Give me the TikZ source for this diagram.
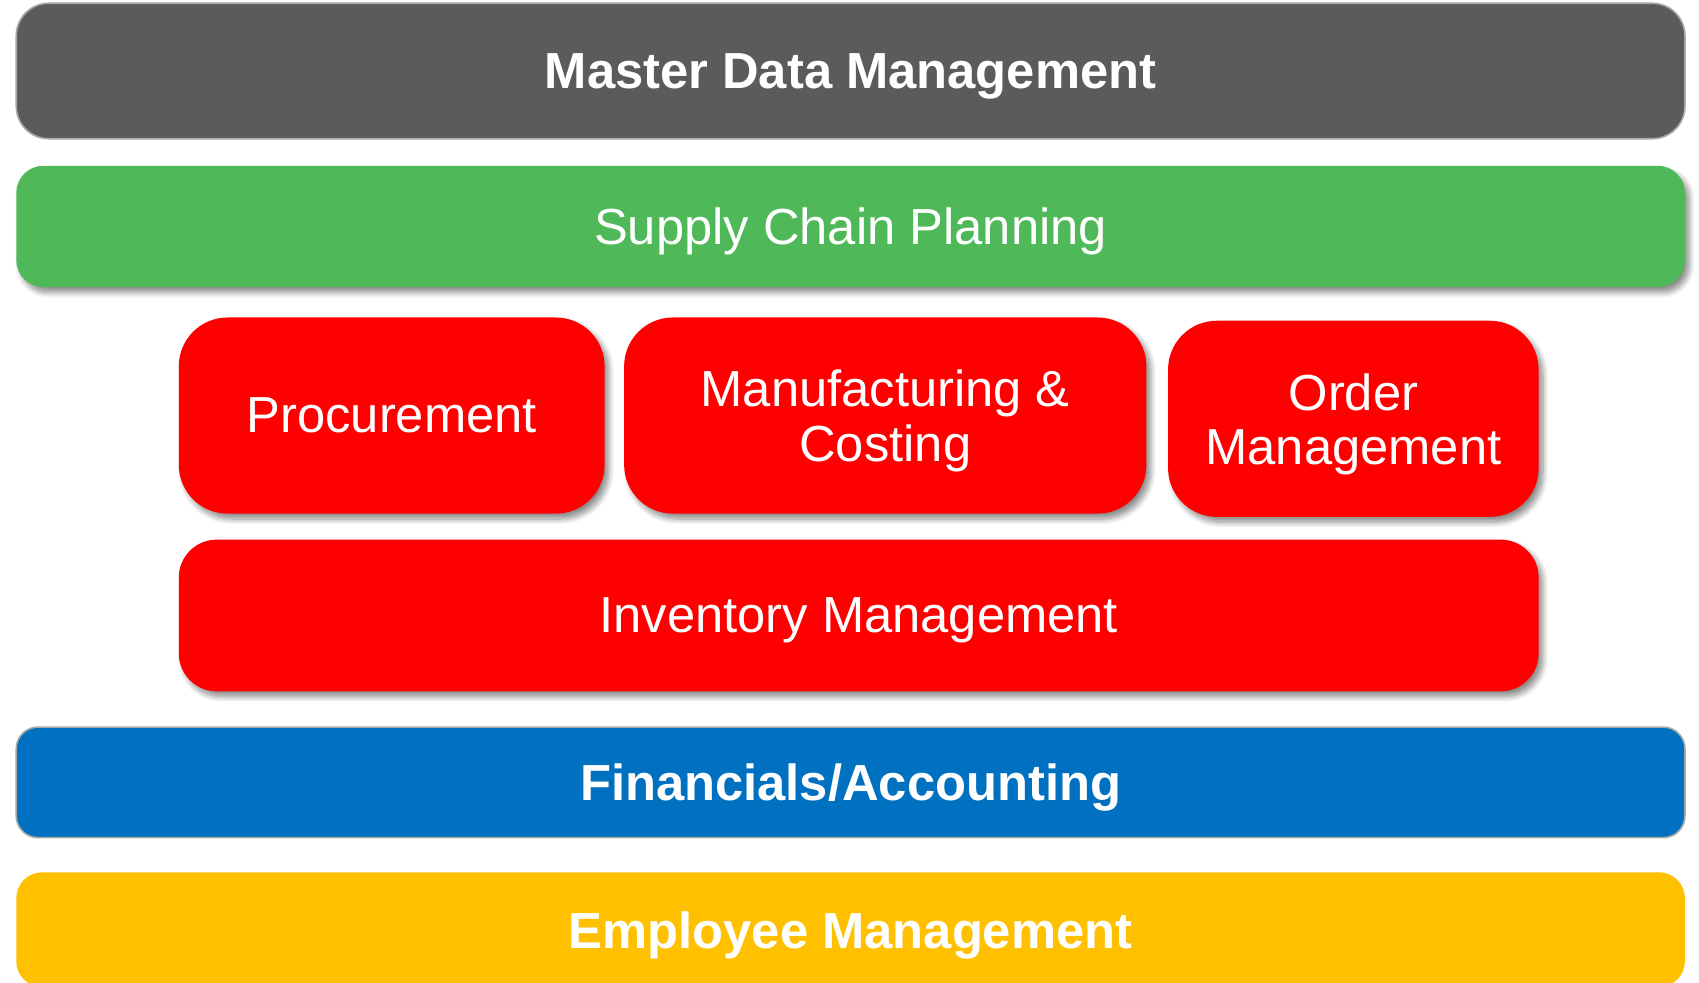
\documentclass[tikz,border=0pt]{standalone}
\usepackage{fontspec}
\setmainfont{Liberation Sans}
\usetikzlibrary{shadows.blur}
\definecolor{mdmgray}{HTML}{5B5B5B}
\definecolor{scpgreen}{HTML}{4FB858}
\definecolor{modred}{HTML}{FF0000}
\definecolor{finblue}{HTML}{0070C0}
\definecolor{empyellow}{HTML}{FFC000}
\definecolor{edgegray}{HTML}{A3ABA3}
\begin{document}
\begin{tikzpicture}[
        x=0.5pt, y=-0.5pt,
        every node/.style={text=white, align=center, inner sep=0pt, text depth=0pt, font=\fontsize{23.4}{25}\selectfont},
        bold/.style={font=\fontsize{23.4}{25}\selectfont\bfseries},
        softshadow/.style={blur shadow={shadow xshift=2pt, shadow yshift=-2.5pt, shadow opacity=45, shadow blur radius=2.5pt, shadow blur steps=8}},
        layer/.style={minimum width=770pt},
        module/.style={fill=modred, rounded corners=22.5pt, minimum height=90.5pt, softshadow},
    ]
    \useasboundingbox (0,0) rectangle (1568,907);
    \clip (0,0) rectangle (1568,907);
    % full width layers
    \node[layer, bold, fill=mdmgray, draw=edgegray, line width=0.75pt, rounded corners=15pt, minimum height=62.5pt](mdm) at (785,65.5){Master Data Management};
    \node[layer, fill=scpgreen, rounded corners=12.5pt, minimum height=56pt, softshadow](scp) at (785,209){Supply Chain Planning};
    % modules
    \node[module, minimum width=196.5pt](proc) at (361.5,383.5){Procurement};
    \node[module, minimum width=241pt](manu) at (817,383.5){Manufacturing \&\\Costing};
    \node[module, minimum width=171pt](order) at (1249,386.5){Order\\Management};
    \node[module, minimum width=627.5pt, minimum height=70pt, rounded corners=17.5pt](inv) at (792.5,568){Inventory Management};
    % bottom layers
    \node[layer, bold, fill=finblue, draw=edgegray, line width=0.75pt, rounded corners=10pt, minimum height=51pt](fin) at (785,722){Financials/Accounting};
    \node[layer, bold, fill=empyellow, rounded corners=12pt, minimum height=53pt](emp) at (785,858){Employee Management};
\end{tikzpicture}
\end{document}
